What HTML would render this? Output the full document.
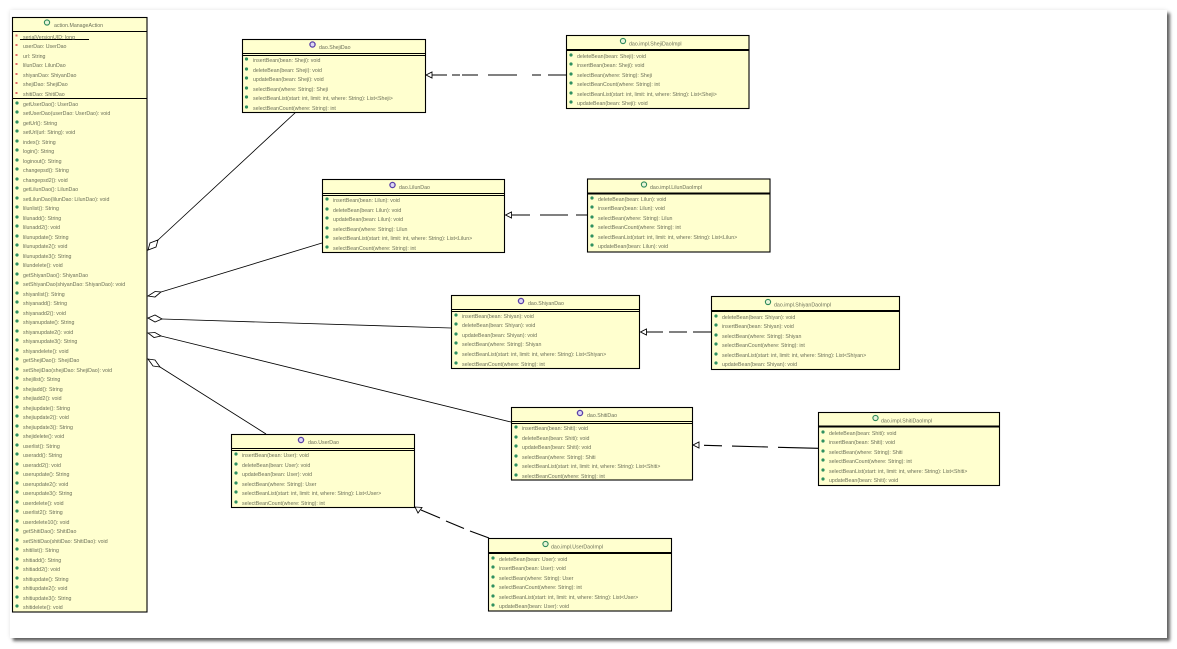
<!DOCTYPE html>
<html><head><meta charset="utf-8"><style>
html,body{margin:0;padding:0;background:#fff;width:1177px;height:649px;overflow:hidden}
#p{position:absolute;left:10px;top:10px;width:1157px;height:628px;background:#fff;box-shadow:0 0 4px rgba(0,0,0,.1),3px 3px 3px #666}
svg{position:absolute;left:0;top:0}
text{font-family:"Liberation Sans",sans-serif;font-size:5.25px;fill:#6b6f58;filter:blur(.2px)}
.b{fill:#ffffcf;stroke:#000;stroke-width:1.1}
.l{stroke:#000;stroke-width:.85;fill:none}
.d{stroke:#000;stroke-width:1.1;fill:none}
.a{fill:#fff;stroke:#000;stroke-width:.85}
.m{fill:#2f9060}
.f{fill:#e06a6a}
.ci{fill:#e8f5d8;stroke:#2f8a5a;stroke-width:1.1}
.ii{fill:#dcd8f5;stroke:#5a3fa8;stroke-width:1.3}
</style></head><body><div id="p"></div>
<svg width="1177" height="649" viewBox="0 0 1177 649">
<path class="l" d="M296 112L158 240M161 292L322 243M162 319L451 328M161 336L511 422M160 367L266 434"/>
<path class="a" d="M148 250L150 243L158 240L156 247ZM148 296L155 291.500L161 292L155 297ZM148 318L155 315L162 319L155 322ZM148 333L155 332.500L161 336L154 337.500ZM148 359L155 360L160 367L153 366Z"/>
<path class="d" d="M432 75H447M452 75H460M462 75H478M488 75H517M532 75H541M548 75H566M512 215H530M540 215H568M576 215H587M646 332H663M669 332H687M693 332H711M704 445.300L722 445.800M732 446.100L768 447M778 447.300L818 448.300M421 510L440 518M446 521L464 528.500M470 531L489 538"/>
<path class="a" d="M426 75L432 72V78ZM505.500 215L511.500 212V218ZM640.500 332L646.500 329V335ZM693 445L699 442V448ZM415 507L422 507.500L418 513Z"/>

<!-- action.ManageAction -->
<rect class="b" x="12.500" y="17.500" width="134.500" height="594.500"/>
<path class="d" d="M12 31.500H147M12 98.500H147M20 39.500H89"/>
<circle class="ci" cx="47" cy="22.500" r="2.600"/><text x="54" y="27">action.ManageAction</text>
<g class="f"><rect x="15.500" y="34.500" width="2" height="2"/><rect x="15.500" y="44" width="2" height="2"/><rect x="15.500" y="54" width="2" height="2"/><rect x="15.500" y="63" width="2" height="2"/><rect x="15.500" y="73" width="2" height="2"/><rect x="15.500" y="82" width="2" height="2"/><rect x="15.500" y="92" width="2" height="2"/></g>
<text x="23" y="39">serialVersionUID: long</text>
<text x="23" y="48">userDao: UserDao</text>
<text x="23" y="58">url: String</text>
<text x="23" y="67">lilunDao: LilunDao</text>
<text x="23" y="77">shiyanDao: ShiyanDao</text>
<text x="23" y="86">shejiDao: ShejiDao</text>
<text x="23" y="96">shitiDao: ShitiDao</text>
<g class="m"><circle cx="17" cy="103" r="1.600"/><circle cx="17" cy="112" r="1.600"/><circle cx="17" cy="122" r="1.600"/><circle cx="17" cy="131" r="1.600"/><circle cx="17" cy="141" r="1.600"/><circle cx="17" cy="150" r="1.600"/><circle cx="17" cy="160" r="1.600"/><circle cx="17" cy="169" r="1.600"/><circle cx="17" cy="179" r="1.600"/><circle cx="17" cy="188" r="1.600"/><circle cx="17" cy="198" r="1.600"/><circle cx="17" cy="207" r="1.600"/><circle cx="17" cy="217" r="1.600"/><circle cx="17" cy="226" r="1.600"/><circle cx="17" cy="236" r="1.600"/><circle cx="17" cy="245" r="1.600"/><circle cx="17" cy="255" r="1.600"/><circle cx="17" cy="264" r="1.600"/><circle cx="17" cy="274" r="1.600"/><circle cx="17" cy="283" r="1.600"/><circle cx="17" cy="293" r="1.600"/><circle cx="17" cy="302" r="1.600"/><circle cx="17" cy="312" r="1.600"/><circle cx="17" cy="321" r="1.600"/><circle cx="17" cy="331" r="1.600"/><circle cx="17" cy="340" r="1.600"/><circle cx="17" cy="350" r="1.600"/><circle cx="17" cy="359" r="1.600"/><circle cx="17" cy="369" r="1.600"/><circle cx="17" cy="378" r="1.600"/><circle cx="17" cy="388" r="1.600"/><circle cx="17" cy="397" r="1.600"/><circle cx="17" cy="407" r="1.600"/><circle cx="17" cy="416" r="1.600"/><circle cx="17" cy="426" r="1.600"/><circle cx="17" cy="435" r="1.600"/><circle cx="17" cy="445" r="1.600"/><circle cx="17" cy="454" r="1.600"/><circle cx="17" cy="464" r="1.600"/><circle cx="17" cy="473" r="1.600"/><circle cx="17" cy="483" r="1.600"/><circle cx="17" cy="492" r="1.600"/><circle cx="17" cy="502" r="1.600"/><circle cx="17" cy="511" r="1.600"/><circle cx="17" cy="521" r="1.600"/><circle cx="17" cy="530" r="1.600"/><circle cx="17" cy="540" r="1.600"/><circle cx="17" cy="549" r="1.600"/><circle cx="17" cy="559" r="1.600"/><circle cx="17" cy="568" r="1.600"/><circle cx="17" cy="578" r="1.600"/><circle cx="17" cy="587" r="1.600"/><circle cx="17" cy="597" r="1.600"/><circle cx="17" cy="606" r="1.600"/></g>
<g>
<text x="23" y="106">getUserDao(): UserDao</text>
<text x="23" y="115">setUserDao(userDao: UserDao): void</text>
<text x="23" y="125">getUrl(): String</text>
<text x="23" y="134">setUrl(url: String): void</text>
<text x="23" y="144">index(): String</text>
<text x="23" y="153">login(): String</text>
<text x="23" y="163">loginout(): String</text>
<text x="23" y="172">changepsd(): String</text>
<text x="23" y="182">changepsd2(): void</text>
<text x="23" y="191">getLilunDao(): LilunDao</text>
<text x="23" y="201">setLilunDao(lilunDao: LilunDao): void</text>
<text x="23" y="210">lilunlist(): String</text>
<text x="23" y="220">lilunadd(): String</text>
<text x="23" y="229">lilunadd2(): void</text>
<text x="23" y="239">lilunupdate(): String</text>
<text x="23" y="248">lilunupdate2(): void</text>
<text x="23" y="258">lilunupdate3(): String</text>
<text x="23" y="267">lilundelete(): void</text>
<text x="23" y="277">getShiyanDao(): ShiyanDao</text>
<text x="23" y="286">setShiyanDao(shiyanDao: ShiyanDao): void</text>
<text x="23" y="296">shiyanlist(): String</text>
<text x="23" y="305">shiyanadd(): String</text>
<text x="23" y="315">shiyanadd2(): void</text>
<text x="23" y="324">shiyanupdate(): String</text>
<text x="23" y="334">shiyanupdate2(): void</text>
<text x="23" y="343">shiyanupdate3(): String</text>
<text x="23" y="353">shiyandelete(): void</text>
<text x="23" y="362">getShejiDao(): ShejiDao</text>
<text x="23" y="372">setShejiDao(shejiDao: ShejiDao): void</text>
<text x="23" y="381">shejilist(): String</text>
<text x="23" y="391">shejiadd(): String</text>
<text x="23" y="400">shejiadd2(): void</text>
<text x="23" y="410">shejiupdate(): String</text>
<text x="23" y="419">shejiupdate2(): void</text>
<text x="23" y="429">shejiupdate3(): String</text>
<text x="23" y="438">shejidelete(): void</text>
<text x="23" y="448">userlist(): String</text>
<text x="23" y="457">useradd(): String</text>
<text x="23" y="467">useradd2(): void</text>
<text x="23" y="476">userupdate(): String</text>
<text x="23" y="486">userupdate2(): void</text>
<text x="23" y="495">userupdate3(): String</text>
<text x="23" y="505">userdelete(): void</text>
<text x="23" y="514">userlist2(): String</text>
<text x="23" y="524">userdelete10(): void</text>
<text x="23" y="533">getShitiDao(): ShitiDao</text>
<text x="23" y="543">setShitiDao(shitiDao: ShitiDao): void</text>
<text x="23" y="552">shitilist(): String</text>
<text x="23" y="562">shitiadd(): String</text>
<text x="23" y="571">shitiadd2(): void</text>
<text x="23" y="581">shitiupdate(): String</text>
<text x="23" y="590">shitiupdate2(): void</text>
<text x="23" y="600">shitiupdate3(): String</text>
<text x="23" y="609">shitidelete(): void</text>
</g>

<!-- dao.ShejiDao -->
<rect class="b" x="242.500" y="39.500" width="183" height="73"/>
<path class="d" d="M242 53.500H425M242 55.500H425"/>
<circle class="ii" cx="312.500" cy="44.500" r="2.600"/><text x="319" y="49">dao.ShejiDao</text>
<g class="m"><circle cx="246.500" cy="59" r="1.600"/><circle cx="246.500" cy="69" r="1.600"/><circle cx="246.500" cy="78" r="1.600"/><circle cx="246.500" cy="88" r="1.600"/><circle cx="246.500" cy="97" r="1.600"/><circle cx="246.500" cy="107" r="1.600"/></g>
<text x="253" y="62">insertBean(bean: Sheji): void</text>
<text x="253" y="72">deleteBean(bean: Sheji): void</text>
<text x="253" y="81">updateBean(bean: Sheji): void</text>
<text x="253" y="91">selectBean(where: String): Sheji</text>
<text x="253" y="100">selectBeanList(start: int, limit: int, where: String): List&lt;Sheji&gt;</text>
<text x="253" y="110">selectBeanCount(where: String): int</text>

<!-- dao.impl.ShejiDaoImpl -->
<rect class="b" x="566.500" y="35.500" width="182.500" height="73"/>
<path class="d" d="M566 49.500H749M566 50.500H749"/>
<circle class="ci" cx="623" cy="41" r="2.600"/><text x="629" y="45.500">dao.impl.ShejiDaoImpl</text>
<g class="m"><circle cx="571" cy="55" r="1.600"/><circle cx="571" cy="64" r="1.600"/><circle cx="571" cy="74" r="1.600"/><circle cx="571" cy="83" r="1.600"/><circle cx="571" cy="93" r="1.600"/><circle cx="571" cy="102" r="1.600"/></g>
<text x="577" y="58">deleteBean(bean: Sheji): void</text>
<text x="577" y="67">insertBean(bean: Sheji): void</text>
<text x="577" y="77">selectBean(where: String): Sheji</text>
<text x="577" y="86">selectBeanCount(where: String): int</text>
<text x="577" y="96">selectBeanList(start: int, limit: int, where: String): List&lt;Sheji&gt;</text>
<text x="577" y="105">updateBean(bean: Sheji): void</text>

<!-- dao.LilunDao -->
<rect class="b" x="322.500" y="179.500" width="182" height="73"/>
<path class="d" d="M322 193.500H505M322 195.500H505"/>
<circle class="ii" cx="392.500" cy="185" r="2.600"/><text x="399" y="189">dao.LilunDao</text>
<g class="m"><circle cx="327" cy="199" r="1.600"/><circle cx="327" cy="209" r="1.600"/><circle cx="327" cy="218" r="1.600"/><circle cx="327" cy="228" r="1.600"/><circle cx="327" cy="237" r="1.600"/><circle cx="327" cy="247" r="1.600"/></g>
<text x="333" y="202">insertBean(bean: Lilun): void</text>
<text x="333" y="212">deleteBean(bean: Lilun): void</text>
<text x="333" y="221">updateBean(bean: Lilun): void</text>
<text x="333" y="231">selectBean(where: String): Lilun</text>
<text x="333" y="240">selectBeanList(start: int, limit: int, where: String): List&lt;Lilun&gt;</text>
<text x="333" y="250">selectBeanCount(where: String): int</text>

<!-- dao.impl.LilunDaoImpl -->
<rect class="b" x="587.500" y="179" width="182.500" height="73"/>
<path class="d" d="M587 193H770M587 194H770"/>
<circle class="ci" cx="644" cy="184.500" r="2.600"/><text x="650" y="189">dao.impl.LilunDaoImpl</text>
<g class="m"><circle cx="592" cy="198" r="1.600"/><circle cx="592" cy="207" r="1.600"/><circle cx="592" cy="217" r="1.600"/><circle cx="592" cy="226" r="1.600"/><circle cx="592" cy="236" r="1.600"/><circle cx="592" cy="245" r="1.600"/></g>
<text x="598" y="201">deleteBean(bean: Lilun): void</text>
<text x="598" y="210">insertBean(bean: Lilun): void</text>
<text x="598" y="220">selectBean(where: String): Lilun</text>
<text x="598" y="229">selectBeanCount(where: String): int</text>
<text x="598" y="239">selectBeanList(start: int, limit: int, where: String): List&lt;Lilun&gt;</text>
<text x="598" y="248">updateBean(bean: Lilun): void</text>

<!-- dao.ShiyanDao -->
<rect class="b" x="451.500" y="295.500" width="188" height="73"/>
<path class="d" d="M451 309.500H639M451 311.500H639"/>
<circle class="ii" cx="521" cy="301" r="2.600"/><text x="528" y="305">dao.ShiyanDao</text>
<g class="m"><circle cx="456" cy="315" r="1.600"/><circle cx="456" cy="324" r="1.600"/><circle cx="456" cy="334" r="1.600"/><circle cx="456" cy="343" r="1.600"/><circle cx="456" cy="353" r="1.600"/><circle cx="456" cy="363" r="1.600"/></g>
<text x="462" y="318">insertBean(bean: Shiyan): void</text>
<text x="462" y="327">deleteBean(bean: Shiyan): void</text>
<text x="462" y="337">updateBean(bean: Shiyan): void</text>
<text x="462" y="346">selectBean(where: String): Shiyan</text>
<text x="462" y="356">selectBeanList(start: int, limit: int, where: String): List&lt;Shiyan&gt;</text>
<text x="462" y="366">selectBeanCount(where: String): int</text>

<!-- dao.impl.ShiyanDaoImpl -->
<rect class="b" x="711.500" y="296.500" width="188" height="73"/>
<path class="d" d="M711 310.500H899M711 311.500H899"/>
<circle class="ci" cx="768" cy="302" r="2.600"/><text x="774" y="306.500">dao.impl.ShiyanDaoImpl</text>
<g class="m"><circle cx="716" cy="316" r="1.600"/><circle cx="716" cy="325" r="1.600"/><circle cx="716" cy="335" r="1.600"/><circle cx="716" cy="344" r="1.600"/><circle cx="716" cy="354" r="1.600"/><circle cx="716" cy="363" r="1.600"/></g>
<text x="722" y="319">deleteBean(bean: Shiyan): void</text>
<text x="722" y="328">insertBean(bean: Shiyan): void</text>
<text x="722" y="338">selectBean(where: String): Shiyan</text>
<text x="722" y="347">selectBeanCount(where: String): int</text>
<text x="722" y="357">selectBeanList(start: int, limit: int, where: String): List&lt;Shiyan&gt;</text>
<text x="722" y="366">updateBean(bean: Shiyan): void</text>

<!-- dao.ShitiDao -->
<rect class="b" x="511.500" y="407.500" width="181" height="72.500"/>
<path class="d" d="M511 421.500H692M511 423.500H692"/>
<circle class="ii" cx="580" cy="413" r="2.600"/><text x="587" y="417">dao.ShitiDao</text>
<g class="m"><circle cx="516" cy="427" r="1.600"/><circle cx="516" cy="437" r="1.600"/><circle cx="516" cy="446" r="1.600"/><circle cx="516" cy="456" r="1.600"/><circle cx="516" cy="465" r="1.600"/><circle cx="516" cy="475" r="1.600"/></g>
<text x="522" y="430">insertBean(bean: Shiti): void</text>
<text x="522" y="440">deleteBean(bean: Shiti): void</text>
<text x="522" y="449">updateBean(bean: Shiti): void</text>
<text x="522" y="459">selectBean(where: String): Shiti</text>
<text x="522" y="468">selectBeanList(start: int, limit: int, where: String): List&lt;Shiti&gt;</text>
<text x="522" y="478">selectBeanCount(where: String): int</text>

<!-- dao.impl.ShitiDaoImpl -->
<rect class="b" x="818.500" y="412.500" width="181" height="73"/>
<path class="d" d="M818 426H999M818 427H999"/>
<circle class="ci" cx="875.500" cy="418" r="2.600"/><text x="881" y="422.500">dao.impl.ShitiDaoImpl</text>
<g class="m"><circle cx="823" cy="432" r="1.600"/><circle cx="823" cy="441" r="1.600"/><circle cx="823" cy="451" r="1.600"/><circle cx="823" cy="460" r="1.600"/><circle cx="823" cy="470" r="1.600"/><circle cx="823" cy="479" r="1.600"/></g>
<text x="829" y="435">deleteBean(bean: Shiti): void</text>
<text x="829" y="444">insertBean(bean: Shiti): void</text>
<text x="829" y="454">selectBean(where: String): Shiti</text>
<text x="829" y="463">selectBeanCount(where: String): int</text>
<text x="829" y="473">selectBeanList(start: int, limit: int, where: String): List&lt;Shiti&gt;</text>
<text x="829" y="482">updateBean(bean: Shiti): void</text>

<!-- dao.UserDao -->
<rect class="b" x="231.500" y="434.500" width="183" height="73"/>
<path class="d" d="M231 448.500H414M231 450.500H414"/>
<circle class="ii" cx="301" cy="440" r="2.600"/><text x="308" y="444">dao.UserDao</text>
<g class="m"><circle cx="236" cy="454" r="1.600"/><circle cx="236" cy="464" r="1.600"/><circle cx="236" cy="473" r="1.600"/><circle cx="236" cy="483" r="1.600"/><circle cx="236" cy="492" r="1.600"/><circle cx="236" cy="502" r="1.600"/></g>
<text x="242" y="457">insertBean(bean: User): void</text>
<text x="242" y="467">deleteBean(bean: User): void</text>
<text x="242" y="476">updateBean(bean: User): void</text>
<text x="242" y="486">selectBean(where: String): User</text>
<text x="242" y="495">selectBeanList(start: int, limit: int, where: String): List&lt;User&gt;</text>
<text x="242" y="505">selectBeanCount(where: String): int</text>

<!-- dao.impl.UserDaoImpl -->
<rect class="b" x="488.500" y="538.500" width="183" height="72.500"/>
<path class="d" d="M488 552.500H672M488 553.500H672"/>
<circle class="ci" cx="545.500" cy="544" r="2.600"/><text x="551" y="548.500">dao.impl.UserDaoImpl</text>
<g class="m"><circle cx="493" cy="558" r="1.600"/><circle cx="493" cy="567" r="1.600"/><circle cx="493" cy="577" r="1.600"/><circle cx="493" cy="586" r="1.600"/><circle cx="493" cy="596" r="1.600"/><circle cx="493" cy="605" r="1.600"/></g>
<text x="499" y="561">deleteBean(bean: User): void</text>
<text x="499" y="570">insertBean(bean: User): void</text>
<text x="499" y="580">selectBean(where: String): User</text>
<text x="499" y="589">selectBeanCount(where: String): int</text>
<text x="499" y="599">selectBeanList(start: int, limit: int, where: String): List&lt;User&gt;</text>
<text x="499" y="608">updateBean(bean: User): void</text>
</svg>
</body></html>
